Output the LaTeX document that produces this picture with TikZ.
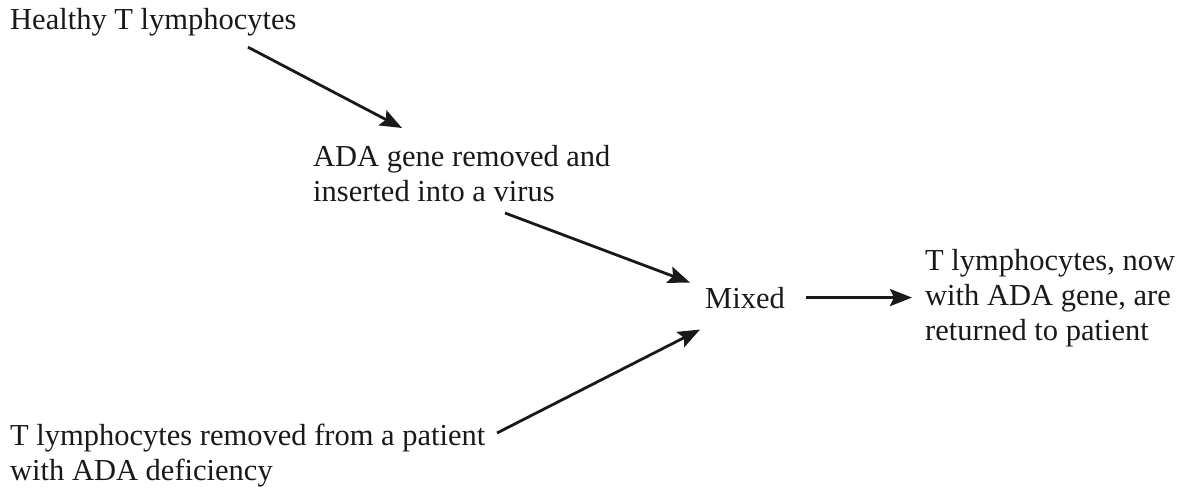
\documentclass[tikz,border=0pt]{standalone}
\usepackage{fontspec}
\setmainfont{Liberation Serif}
\usetikzlibrary{arrows.meta,calc}
\begin{document}
\begin{tikzpicture}[x=1pt,y=-1pt,
  lab/.style={inner sep=0pt, font=\fontsize{30.5}{35}\selectfont, align=left, text=black!90},
  arr/.style={line width=2.8pt, draw=black!90, -{Stealth[length=22pt,width=17pt,inset=4pt]}}]
\useasboundingbox (0,0) rectangle (1191,489);
\node[lab,anchor=base west] (healthy) at (10,30) {Healthy T lymphocytes};
\node[lab,anchor=north west] (ada) at (313,145) {ADA gene removed and\\inserted into a virus};
\node[lab,anchor=base west] (mixed) at (705,308) {Mixed};
\node[lab,anchor=north west] (ret) at (925,249) {T lymphocytes, now\\with ADA gene, are\\returned to patient};
\node[lab,anchor=north west] (pat) at (10,424) {T lymphocytes removed from a patient\\with ADA deficiency};
\draw[arr] ($(healthy.south west)+(238,10.4)$) -- ($(ada.north west)+(89,-17)$);
\draw[arr] ($(ada.north west)+(192,68)$) -- ($(mixed.west)+(-15,-15)$);
\draw[arr] ($(pat.north west)+(487,9)$) -- ($(mixed.west)+(-5,32)$);
\draw[arr] ($(mixed.east)+(21,0)$) -- ($(ret.west |- mixed.east)+(-13,0)$);
\end{tikzpicture}
\end{document}
